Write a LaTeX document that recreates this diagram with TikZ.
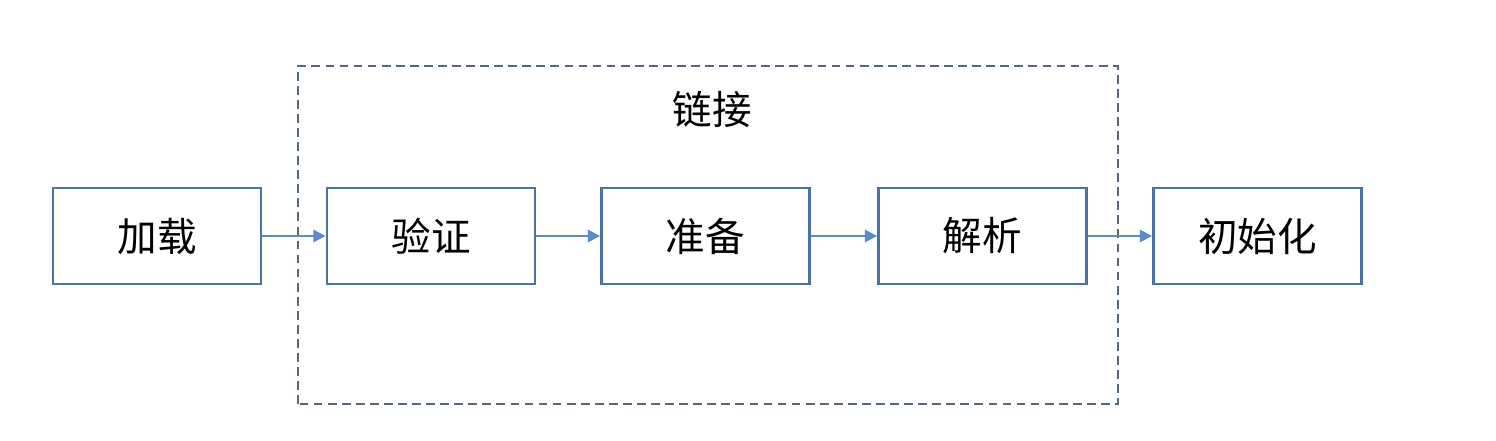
\documentclass[tikz,border=0pt]{standalone}
\usepackage{fontspec}
\setmainfont{Noto Sans CJK SC}
\usepackage{xcolor}
\usepackage{tikz}
\usetikzlibrary{arrows.meta, positioning, calc}

\definecolor{boxline}{HTML}{4A72A6}
\definecolor{arrline}{HTML}{5B8BC8}
\definecolor{dashline}{HTML}{54677E}

\begin{document}
\begin{tikzpicture}[
  stage/.style = {rectangle, draw=boxline, line width=1.6pt,
                  font=\fontsize{22.5}{26}\selectfont,
                  minimum width=4.16cm, minimum height=1.92cm, align=center},
  flow/.style  = {-{Triangle[length=7pt,width=7pt]}, line width=1.4pt, arrline},
  group/.style = {draw=dashline, line width=1.5pt, dash pattern=on 5pt off 3pt},
]
  \useasboundingbox (0,0) rectangle (29.92,8.8);

  \node[stage] (jiazai)  at (3.14,  4.08) {加载};
  \node[stage] (yanzheng) at (8.62,  4.08) {验证};
  \node[stage] (zhunbei) at (14.11, 4.08) {准备};
  \node[stage] (jiexi)   at (19.65, 4.08) {解析};
  \node[stage] (chushi)  at (25.15, 4.08) {初始化};

  \draw[group] (5.96,0.72) rectangle (22.36,7.48);
  \node[font=\fontsize{22.5}{26}\selectfont] (lianjie) at (14.24,6.62) {链接};

  \draw[flow] (jiazai)   -- (yanzheng);
  \draw[flow] (yanzheng) -- (zhunbei);
  \draw[flow] (zhunbei)  -- (jiexi);
  \draw[flow] (jiexi)    -- (chushi);
\end{tikzpicture}
\end{document}
